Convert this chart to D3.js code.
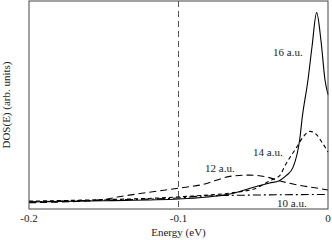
<!DOCTYPE html>
<html>
<head>
<meta charset="utf-8">
<script src="https://cdn.jsdelivr.net/npm/d3@7"></script>
<style>
  body { margin: 0; background: #fff; }
  text { font-family: "Liberation Serif", "Times New Roman", serif; font-size: 11px; fill: #222; }
</style>
</head>
<body>
<div id="chart"></div>
<script>
// energy (eV) and DOS (arb. units)
var e16 = [-0.2, -0.15, -0.1, -0.0656, -0.052, -0.039, -0.0328, -0.028, -0.0234, -0.0187, -0.0174, -0.0134, -0.0107, -0.0076, -0.0047, -0.002, 0];
var dos16 = [0.034, 0.04, 0.048, 0.072, 0.1, 0.125, 0.135, 0.16, 0.2, 0.346, 0.43, 0.62, 0.78, 0.944, 0.81, 0.62, 0.55];

var e14 = [-0.2, -0.15, -0.1, -0.052, -0.039, -0.032, -0.0294, -0.0207, -0.0167, -0.012, -0.008, -0.004, 0];
var dos14 = [0.038, 0.045, 0.058, 0.091, 0.135, 0.163, 0.2, 0.3, 0.346, 0.373, 0.36, 0.32, 0.274];

var e12 = [-0.2, -0.1525, -0.1388, -0.1, -0.0856, -0.0635, -0.052, -0.041, -0.032, -0.0187, -0.0067, 0];
var dos12 = [0.03, 0.043, 0.06, 0.1, 0.115, 0.159, 0.163, 0.154, 0.135, 0.113, 0.1, 0.091];

var e10 = [-0.2, -0.15, -0.1, -0.085, -0.05, 0];
var dos10 = [0.034, 0.043, 0.053, 0.062, 0.067, 0.07];

var xTicks = [-0.2, -0.1, 0];
var xTickLabels = ["-0.2", "-0.1", "0"];
var markerE = -0.1;

var series = [
  { name: "16 a.u.", e: e16, dos: dos16, dash: null },
  { name: "14 a.u.", e: e14, dos: dos14, dash: "4,3" },
  { name: "12 a.u.", e: e12, dos: dos12, dash: "7,4" },
  { name: "10 a.u.", e: e10, dos: dos10, dash: "8,3,2,3" }
];

var width = 332, height = 240;
var margin = { top: 1, right: 4, bottom: 31, left: 29 };

var svg = d3.select("#chart").append("svg")
  .attr("width", width)
  .attr("height", height);

var x = d3.scaleLinear().domain([-0.2, 0]).range([margin.left, width - margin.right]);
var y = d3.scaleLinear().domain([0, 1]).range([height - margin.bottom, margin.top]);

// marker line at -0.1 eV
svg.append("line")
  .attr("x1", x(markerE)).attr("x2", x(markerE))
  .attr("y1", y(1)).attr("y2", y(0))
  .attr("stroke", "#555")
  .attr("stroke-width", 1)
  .attr("stroke-dasharray", "6,4");

var line = d3.line()
  .x(function(d) { return x(d[0]); })
  .y(function(d) { return y(d[1]); })
  .curve(d3.curveMonotoneX);

series.forEach(function(s) {
  svg.append("path")
    .datum(s.e.map(function(v, i) { return [v, s.dos[i]]; }))
    .attr("d", line)
    .attr("fill", "none")
    .attr("stroke", "#000")
    .attr("stroke-width", 1.1)
    .attr("stroke-dasharray", s.dash);
});

// frame
svg.append("rect")
  .attr("x", x(-0.2)).attr("y", y(1))
  .attr("width", x(0) - x(-0.2))
  .attr("height", y(0) - y(1))
  .attr("fill", "none")
  .attr("stroke", "#444")
  .attr("stroke-width", 1);

// x tick labels
svg.selectAll(".tick-label")
  .data(xTicks)
  .enter().append("text")
    .attr("class", "tick-label")
    .attr("x", function(d) { return x(d); })
    .attr("y", y(0) + 13)
    .attr("text-anchor", "middle")
    .text(function(d, i) { return xTickLabels[i]; });

svg.append("text")
  .attr("x", x(-0.1))
  .attr("y", height - 4)
  .attr("text-anchor", "middle")
  .text("Energy (eV)");

svg.append("text")
  .attr("transform", "translate(10," + (y(0.5)) + ") rotate(-90)")
  .attr("text-anchor", "middle")
  .text("DOS(E) (arb. units)");

// curve labels
var labels = [
  { text: "16 a.u.", x: 273, y: 56 },
  { text: "14 a.u.", x: 253, y: 156 },
  { text: "12 a.u.", x: 205, y: 172 },
  { text: "10 a.u.", x: 277, y: 207 }
];
svg.selectAll(".curve-label")
  .data(labels)
  .enter().append("text")
    .attr("class", "curve-label")
    .attr("x", function(d) { return d.x; })
    .attr("y", function(d) { return d.y; })
    .text(function(d) { return d.text; });
</script>
</body>
</html>
